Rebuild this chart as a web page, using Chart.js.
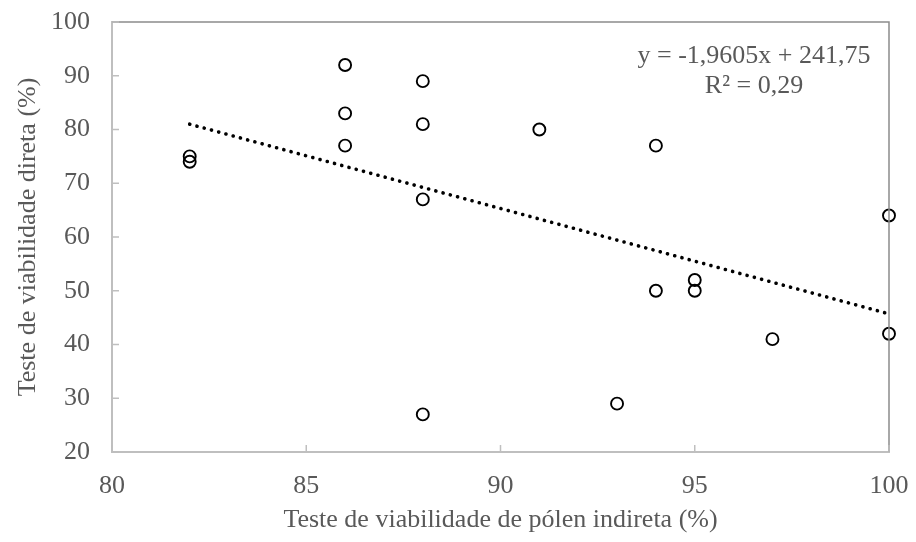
<!DOCTYPE html>
<html>
<head>
<meta charset="utf-8">
<script src="https://cdn.jsdelivr.net/npm/chart.js@4/dist/chart.umd.min.js"></script>
<style>
  html, body { margin: 0; padding: 0; background: #ffffff; }
  #wrap { width: 916px; height: 542px; position: relative; }
</style>
</head>
<body>
<div id="wrap"><canvas id="c" width="916" height="542"></canvas></div>
<script>
// Data
const pollenIndirect = [82, 82, 86, 86, 86, 88, 88, 88, 88, 91, 93, 94, 94, 95, 95, 97, 100, 100];
const viabilityDirect = [75, 74, 92, 83, 77, 89, 81, 67, 27, 80, 29, 77, 50, 52, 50, 41, 64, 42];
const xTicks = [80, 85, 90, 95, 100];
const yTicks = [20, 30, 40, 50, 60, 70, 80, 90, 100];
const trendSlope = -1.9605;
const trendIntercept = 241.75;
const equationLines = ['y = -1,9605x + 241,75', 'R² = 0,29'];
const xTitle = 'Teste de viabilidade de pólen indireta (%)';
const yTitle = 'Teste de viabilidade direta (%)';

const FONT = "'Liberation Serif', 'Times New Roman', serif";
const TEXT = '#595959';
const AXIS = '#bfbfbf';

const points = pollenIndirect.map((x, i) => ({ x, y: viabilityDirect[i] }));
const xMin = Math.min(...pollenIndirect), xMax = Math.max(...pollenIndirect);
const trend = [xMin, xMax].map(x => ({ x, y: trendSlope * x + trendIntercept }));

function noPad(s) { s.paddingTop = 0; s.paddingBottom = 0; s.paddingLeft = 0; s.paddingRight = 0; }

const decor = {
  id: 'decor',
  afterDatasetsDraw(chart) {
    const { ctx, chartArea: a, scales } = chart;
    ctx.save();
    // top & right frame
    ctx.strokeStyle = '#8c8c8c';
    ctx.lineWidth = 1.5;
    ctx.beginPath();
    ctx.moveTo(a.left, a.top);
    ctx.lineTo(a.right, a.top);
    ctx.lineTo(a.right, a.bottom);
    ctx.stroke();
    // inner tick marks
    ctx.strokeStyle = AXIS;
    ctx.lineWidth = 1.5;
    ctx.beginPath();
    xTicks.forEach(v => {
      const px = scales.x.getPixelForValue(v);
      ctx.moveTo(px, a.bottom);
      ctx.lineTo(px, a.bottom - 7);
    });
    yTicks.forEach(v => {
      const py = scales.y.getPixelForValue(v);
      ctx.moveTo(a.left, py);
      ctx.lineTo(a.left + 7, py);
    });
    ctx.stroke();
    // equation
    ctx.fillStyle = TEXT;
    ctx.font = '26px ' + FONT;
    ctx.textAlign = 'center';
    ctx.textBaseline = 'alphabetic';
    const cx = a.right - 135;
    ctx.fillText(equationLines[0], cx, a.top + 41);
    ctx.fillText(equationLines[1], cx, a.top + 71);
    ctx.restore();
  }
};

new Chart(document.getElementById('c'), {
  type: 'scatter',
  data: {
    datasets: [
      {
        type: 'line',
        data: trend,
        borderColor: '#000000',
        borderWidth: 3.6,
        borderDash: [0.1, 7.4],
        borderCapStyle: 'round',
        pointRadius: 0,
        fill: false,
        order: 2
      },
      {
        data: points,
        pointStyle: 'circle',
        pointRadius: 6,
        pointBorderWidth: 1.9,
        pointBorderColor: '#000000',
        pointBackgroundColor: 'rgba(0,0,0,0)',
        clip: false,
        order: 1
      }
    ]
  },
  options: {
    responsive: false,
    animation: false,
    devicePixelRatio: 1,
    layout: { padding: { top: 22, right: 27, left: 0, bottom: 0 } },
    plugins: { legend: { display: false }, tooltip: { enabled: false } },
    scales: {
      x: {
        type: 'linear',
        min: 80, max: 100,
        afterBuildTicks(s) { s.ticks = xTicks.map(v => ({ value: v })); },
        afterFit(s) { s.height = 90; noPad(s); },
        grid: { display: true, drawOnChartArea: false, drawTicks: false },
        border: { display: true, color: AXIS, width: 2 },
        ticks: { color: TEXT, font: { family: FONT, size: 26 }, padding: 19, maxRotation: 0 },
        title: { display: true, text: xTitle, color: TEXT, font: { family: FONT, size: 26 }, padding: { top: 0, bottom: 6 } }
      },
      y: {
        type: 'linear',
        min: 20, max: 100,
        afterBuildTicks(s) { s.ticks = yTicks.map(v => ({ value: v })); },
        afterFit(s) { s.width = 112; noPad(s); },
        grid: { display: true, drawOnChartArea: false, drawTicks: false },
        border: { display: true, color: AXIS, width: 2 },
        ticks: { color: TEXT, font: { family: FONT, size: 26 }, padding: 22 },
        title: { display: true, text: yTitle, color: TEXT, font: { family: FONT, size: 26 }, padding: { top: 13, bottom: 0 } }
      }
    }
  },
  plugins: [decor]
});
</script>
</body>
</html>
